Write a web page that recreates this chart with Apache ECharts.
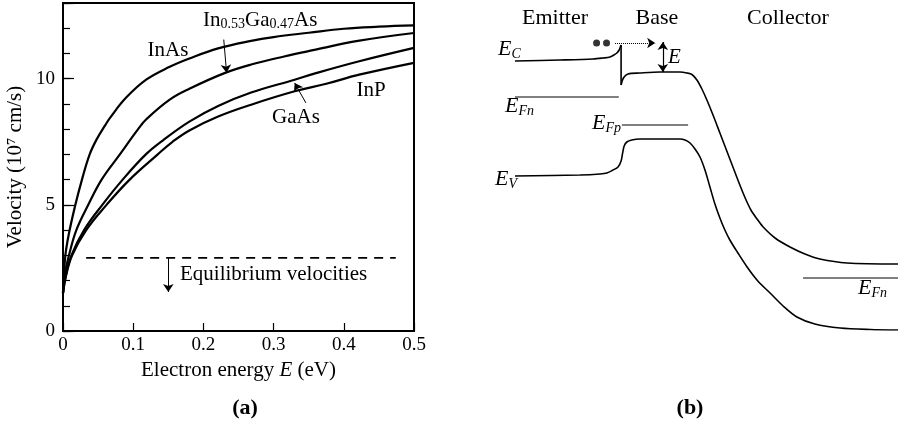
<!DOCTYPE html>
<html><head><meta charset="utf-8">
<script src="https://cdn.jsdelivr.net/npm/echarts@6/dist/echarts.min.js"></script>
<style>html,body{margin:0;padding:0;background:#fff}#c{width:901px;height:424px}</style>
</head><body><div id="c"></div>
<script>
const FONT = 'Liberation Serif';

// ---------- Panel (a): velocity vs electron energy ----------
const xTickValues = [0, 0.1, 0.2, 0.3, 0.4, 0.5];
const yLabelValues = [0, 5, 10];

const inasE = [0, 0.003, 0.008, 0.017, 0.027, 0.038, 0.048, 0.06, 0.067, 0.09, 0.119, 0.152, 0.18, 0.221, 0.268, 0.3, 0.35, 0.4, 0.45, 0.5];
const inasV = [1.5, 2.9, 3.8, 4.93, 6.0, 7.0, 7.6, 8.15, 8.45, 9.25, 9.97, 10.47, 10.8, 11.2, 11.5, 11.65, 11.82, 11.98, 12.06, 12.11];

const ingaasE = [0, 0.003, 0.0085, 0.019, 0.036, 0.055, 0.081, 0.107, 0.119, 0.152, 0.18, 0.23, 0.268, 0.315, 0.36, 0.42, 0.5];
const ingaasV = [1.5, 2.3, 3.0, 4.0, 5.0, 6.0, 7.0, 8.0, 8.4, 9.17, 9.6, 10.22, 10.56, 10.88, 11.15, 11.5, 11.81];

const gaasE = [0, 0.004, 0.012, 0.03, 0.056, 0.085, 0.118, 0.142, 0.18, 0.221, 0.268, 0.33, 0.358, 0.422, 0.5];
const gaasV = [1.5, 2.2, 3.0, 4.0, 5.0, 6.0, 7.0, 7.55, 8.3, 8.92, 9.45, 9.96, 10.2, 10.69, 11.22];

const inpE = [0, 0.004, 0.013, 0.033, 0.062, 0.095, 0.135, 0.156, 0.18, 0.221, 0.268, 0.33, 0.375, 0.422, 0.5];
const inpV = [1.5, 2.15, 3.0, 4.0, 5.0, 6.0, 7.0, 7.5, 7.95, 8.5, 8.97, 9.5, 9.8, 10.16, 10.63];

const equilibriumV = 2.9;
const equilibriumSpanE = [0.033, 0.474];
const equilibriumArrowE = 0.15;
const equilibriumArrowV = [2.9, 1.55];
const ingaasArrow = [[0.229, 11.55], [0.233, 10.24]];
const gaasArrow = [[0.346, 9.04], [0.33, 9.83]];

// ---------- Panel (b): band diagram (position 0-100, energy arb. units) ----------
const ecEmitterP = [0, 11.7, 20.4, 23.0, 24.8, 25.8, 26.6, 27.2, 27.5, 27.7];
const ecEmitterEn = [2.69, 2.70, 2.71, 2.72, 2.73, 2.75, 2.77, 2.80, 2.83, 2.85];
const ecSpikeP = [27.7, 27.7];
const ecSpikeEn = [2.85, 2.45];
const ecBaseP = [27.7, 28.3, 29.5, 32.6, 37.9, 43.1, 44.9, 46.2, 47.5, 48.8, 50.1, 51.7, 53.5, 55.1, 56.9, 58.5, 60.1, 61.6, 63.2, 64.8, 67.9, 71.8, 75.7, 79.6, 86.7, 100];
const ecBaseEn = [2.45, 2.52, 2.56, 2.57, 2.58, 2.58, 2.57, 2.555, 2.50, 2.41, 2.30, 2.15, 1.97, 1.81, 1.63, 1.47, 1.32, 1.20, 1.11, 1.03, 0.92, 0.83, 0.76, 0.71, 0.67, 0.66];
const evP = [0, 17.0, 22.2, 24.0, 25.6, 26.9, 27.7, 28.1, 28.5, 29.2, 30.5, 32.6, 43.1, 44.4, 45.7, 47.0, 48.3, 49.6, 50.9, 52.2, 53.5, 54.8, 56.1, 58.2, 60.6, 63.4, 66.6, 70.0, 73.6, 78.3, 84.9, 92.7, 100];
const evEn = [1.54, 1.55, 1.56, 1.57, 1.60, 1.63, 1.69, 1.77, 1.84, 1.88, 1.90, 1.91, 1.91, 1.90, 1.87, 1.81, 1.73, 1.60, 1.43, 1.26, 1.12, 1.00, 0.90, 0.77, 0.63, 0.49, 0.37, 0.24, 0.13, 0.06, 0.02, 0.005, 0.0];
const efnEmitterP = [0, 27.1];
const efnEmitterEn = [2.33, 2.33];
const efpBaseP = [27.9, 45.2];
const efpBaseEn = [2.05, 2.05];
const efnCollectorP = [75.2, 100];
const efnCollectorEn = [0.52, 0.52];
const electronP = [21.3, 23.9];
const electronEn = [2.87, 2.87];
const electronArrowP = [26.1, 36.6];
const electronArrowEn = 2.87;
const energyArrowP = 38.6;
const energyArrowEn = [2.88, 2.58];

const pairs = (xs, ys) => xs.map((x, i) => [x, ys[i]]);

const chart = echarts.init(document.getElementById('c'), null, {renderer: 'canvas'});

const blackLine = (w) => ({color: '#000', width: w});
const curve = (name, xs, ys) => ({
  name, type: 'line', xAxisIndex: 0, yAxisIndex: 0, data: pairs(xs, ys),
  showSymbol: false, smooth: 0.4, lineStyle: blackLine(2.2), itemStyle: {color: '#000'},
  silent: true, animation: false, z: 3
});
const band = (name, xs, ys, w, smooth) => ({
  name, type: 'line', xAxisIndex: 1, yAxisIndex: 1, data: pairs(xs, ys),
  showSymbol: false, smooth: smooth, lineStyle: blackLine(w), itemStyle: {color: '#000'},
  silent: true, animation: false
});
const arrowMark = (from, to, symbols, type) => ({
  silent: true, animation: false, symbol: symbols, symbolSize: 8,
  label: {show: false}, lineStyle: {color: '#000', width: 1, type: type || 'solid'},
  emphasis: {disabled: true},
  data: [[{coord: from}, {coord: to}]]
});

const ingaasSeries = curve('In0.53Ga0.47As', ingaasE, ingaasV);
ingaasSeries.markLine = arrowMark(ingaasArrow[0], ingaasArrow[1], ['none', 'arrow']);
const gaasSeries = curve('GaAs', gaasE, gaasV);
gaasSeries.markLine = arrowMark(gaasArrow[0], gaasArrow[1], ['none', 'arrow']);

const eqSeries = {
  name: 'Equilibrium', type: 'line', xAxisIndex: 0, yAxisIndex: 0,
  data: pairs(equilibriumSpanE, [equilibriumV, equilibriumV]),
  showSymbol: false, lineStyle: {color: '#000', width: 1.6, type: [9, 7]}, silent: true, animation: false,
  markLine: arrowMark([equilibriumArrowE, equilibriumArrowV[0]], [equilibriumArrowE, equilibriumArrowV[1]], ['none', 'arrow'])
};

const ecBase = band('EC base', ecBaseP, ecBaseEn, 1.6, 0.3);
ecBase.markLine = {
  silent: true, animation: false, symbolSize: 8, label: {show: false}, emphasis: {disabled: true},
  data: [
    [{coord: [electronArrowP[0], electronArrowEn], symbol: 'none', lineStyle: {color: '#000', width: 1, type: 'dotted'}},
     {coord: [electronArrowP[1], electronArrowEn], symbol: 'arrow'}],
    [{coord: [energyArrowP, energyArrowEn[0]], symbol: 'arrow', lineStyle: {color: '#000', width: 1.2, type: 'solid'}},
     {coord: [energyArrowP, energyArrowEn[1]], symbol: 'arrow'}]
  ]
};

const txt = (text, x, y, opts) => ({
  type: 'text', silent: true,
  style: Object.assign({text, x, y, fill: '#000', font: '21px "Liberation Serif"', align: 'left', verticalAlign: 'middle'}, opts || {})
});
const richE = {
  e: {fontFamily: FONT, fontSize: 22, fontStyle: 'italic', lineHeight: 24, color: '#000'},
  s: {fontFamily: FONT, fontSize: 14, fontStyle: 'italic', lineHeight: 9, verticalAlign: 'bottom', color: '#000'}
};
const subLabel = (main, sub, x, y) => txt('{e|' + main + '}{s|' + sub + '}', x, y, {rich: richE});

const option = {
  backgroundColor: '#fff',
  animation: false,
  grid: [
    {left: 63, top: 3, width: 351, height: 328, show: true, borderColor: '#000', borderWidth: 2, backgroundColor: 'transparent'},
    {left: 515, top: 0, width: 383, height: 330, show: false}
  ],
  xAxis: [
    {type: 'value', gridIndex: 0, min: 0, max: 0.5, interval: 0.1,
     axisLine: {lineStyle: blackLine(2)},
     axisTick: {inside: true, length: 8, lineStyle: blackLine(1.2)},
     axisLabel: {margin: 5, color: '#000', fontFamily: FONT, fontSize: 19,
       formatter: v => { const k = xTickValues.find(t => Math.abs(t - v) < 1e-9); return k === 0 ? '0' : (k !== undefined ? k.toFixed(1) : ''); }},
     splitLine: {show: false},
     name: 'Electron energy {i|E} (eV)', nameLocation: 'middle', nameGap: 28,
     nameTextStyle: {color: '#000', fontFamily: FONT, fontSize: 21, rich: {i: {fontFamily: FONT, fontSize: 21, fontStyle: 'italic', color: '#000'}}}},
    {type: 'value', gridIndex: 1, min: 0, max: 100, show: false}
  ],
  yAxis: [
    {type: 'value', gridIndex: 0, min: 0, max: 13, interval: 1,
     axisLine: {lineStyle: blackLine(2)},
     axisTick: {inside: true, length: 7, lineStyle: blackLine(1.2)},
     axisLabel: {margin: 8, color: '#000', fontFamily: FONT, fontSize: 19,
       formatter: v => yLabelValues.indexOf(v) >= 0 ? String(v) : ''},
     splitLine: {show: false},
     name: 'Velocity (10⁷ cm/s)', nameLocation: 'middle', nameGap: 37, nameRotate: 90,
     nameTextStyle: {color: '#000', fontFamily: FONT, fontSize: 21}},
    {type: 'value', gridIndex: 1, min: 0, max: 3.3, show: false},
    {type: 'value', gridIndex: 0, position: 'left', min: 0, max: 13, interval: 5,
     axisLine: {show: false}, axisLabel: {show: false}, splitLine: {show: false},
     axisTick: {inside: true, length: 11, lineStyle: blackLine(1.2)}}
  ],
  series: [
    curve('InAs', inasE, inasV),
    ingaasSeries,
    gaasSeries,
    curve('InP', inpE, inpV),
    eqSeries,
    band('EC emitter', ecEmitterP, ecEmitterEn, 1.6, 0.3),
    band('EC spike', ecSpikeP, ecSpikeEn, 1.6, false),
    ecBase,
    band('EV', evP, evEn, 1.6, 0.3),
    band('EFn emitter', efnEmitterP, efnEmitterEn, 1, false),
    band('EFp base', efpBaseP, efpBaseEn, 1, false),
    band('EFn collector', efnCollectorP, efnCollectorEn, 1, false),
    {name: 'electrons', type: 'scatter', xAxisIndex: 1, yAxisIndex: 1, data: pairs(electronP, electronEn),
     symbolSize: 7, itemStyle: {color: '#000'}, silent: true, animation: false}
  ],
  graphic: [
    txt('InAs', 168, 50, {align: 'center'}),
    txt('{m|In}{s|0.53}{m|Ga}{s|0.47}{m|As}', 203, 20, {rich: {
      m: {fontFamily: FONT, fontSize: 21, lineHeight: 23, color: '#000'},
      s: {fontFamily: FONT, fontSize: 14, lineHeight: 9, verticalAlign: 'bottom', color: '#000'}}}),
    txt('GaAs', 296, 117, {align: 'center'}),
    txt('InP', 371, 90, {align: 'center'}),
    txt('Equilibrium velocities', 180, 274),
    txt('(a)', 245, 408, {align: 'center', font: 'bold 22px "Liberation Serif"'}),
    txt('(b)', 690, 408, {align: 'center', font: 'bold 22px "Liberation Serif"'}),
    txt('Emitter', 555, 18, {align: 'center', font: '22px "Liberation Serif"'}),
    txt('Base', 657, 18, {align: 'center', font: '22px "Liberation Serif"'}),
    txt('Collector', 788, 18, {align: 'center', font: '22px "Liberation Serif"'}),
    subLabel('E', 'C', 498, 49),
    subLabel('E', 'Fn', 505, 106),
    subLabel('E', 'Fp', 592, 123),
    subLabel('E', 'V', 495, 179),
    subLabel('E', 'Fn', 858, 288),
    txt('E', 668, 57, {font: 'italic 21px "Liberation Serif"'})
  ]
};
chart.setOption(option);
</script>
</body></html>
